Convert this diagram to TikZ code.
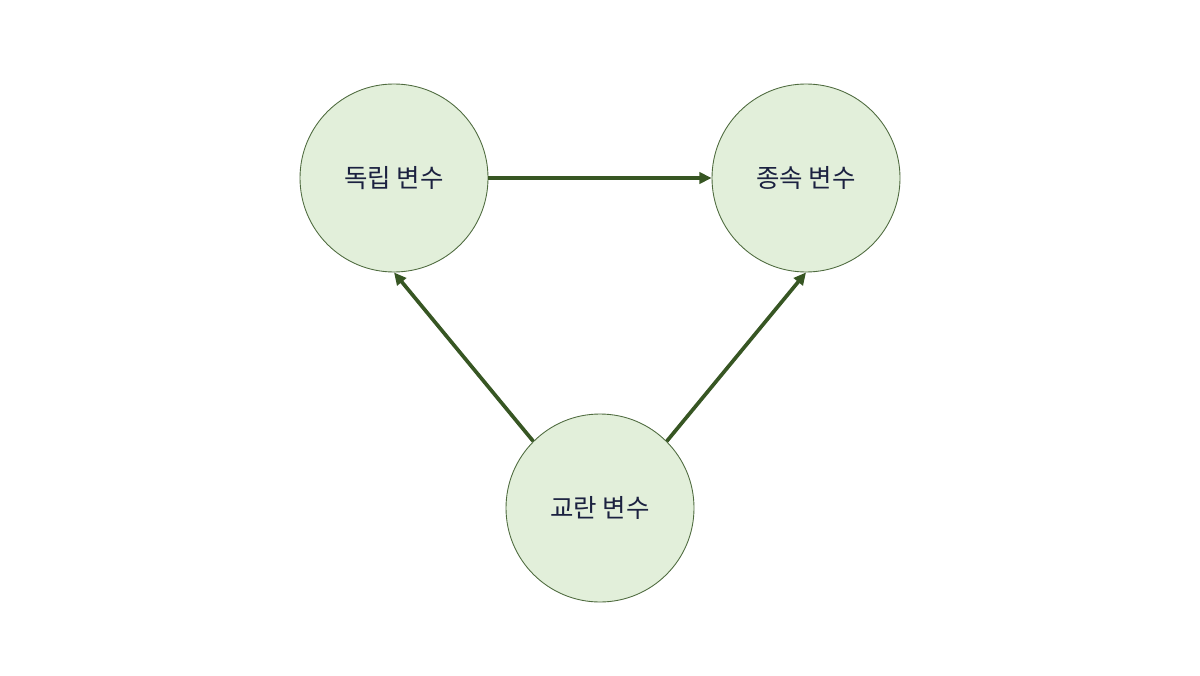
\documentclass[tikz,border=0pt]{standalone}
\usepackage{fontspec}
\setmainfont{Noto Sans CJK KR}
\usetikzlibrary{positioning, arrows.meta}

\definecolor{nodefill}{HTML}{E2EFDA}
\definecolor{nodeline}{HTML}{4F6B3F}
\definecolor{edgecol}{HTML}{375623}
\definecolor{textcol}{HTML}{1B2140}

\begin{document}
\begin{tikzpicture}[
  >={Triangle[length=7pt, width=6.5pt]},
  edge/.style={->, line width=2.1pt, draw=edgecol},
  var/.style={circle, draw=nodeline, fill=nodefill, line width=0.5pt, minimum size=37.6mm, inner sep=0pt, font=\fontsize{14.5pt}{17pt}\selectfont, text=textcol}
]

% --- Frame ---
\useasboundingbox (0,0) rectangle (24,13.5);

% --- Nodes ---
\node[var] (indep) at (7.88, 9.94) {독립 변수};
\node[var] (dep)   at (16.12, 9.94) {종속 변수};

\node[var] (conf)  at (12.0, 3.34) {교란 변수};

% --- Edges ---
\draw[edge] (indep.east) -- (dep.west);
\draw[edge] (conf.135) -- (indep.south);
\draw[edge] (conf.45) -- (dep.south);

\end{tikzpicture}
\end{document}
